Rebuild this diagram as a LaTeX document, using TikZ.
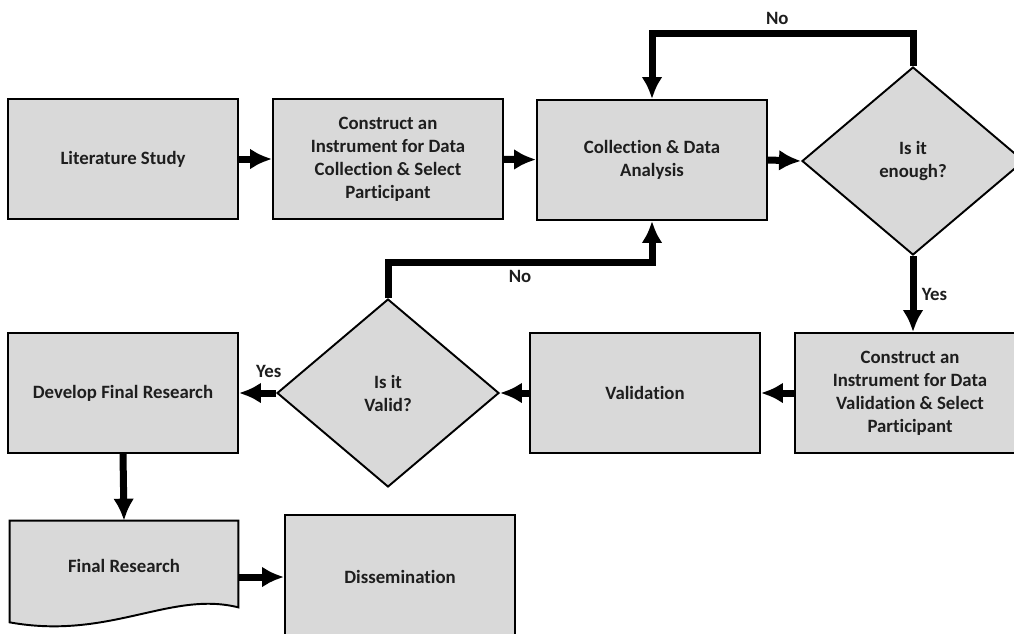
\documentclass[tikz,border=0pt]{standalone}
\usepackage{fontspec}
\setmainfont{Carlito}[Ligatures=NoCommon]
\usepackage{tikz}
\usetikzlibrary{arrows.meta}
\usetikzlibrary{shapes}
\usetikzlibrary{positioning}
\usetikzlibrary{calc}
\usetikzlibrary{backgrounds}
\definecolor{boxgray}{HTML}{D9D9D9}
\definecolor{inkgray}{HTML}{1E1E1E}
\tikzstyle{block} = [rectangle, draw, fill=boxgray, line width=1.1pt, 
text width=4.3cm, align=flush center, minimum width=4.6cm, minimum height=2.4cm, 
font=\bfseries\fontsize{10.7}{13.1}\selectfont, text=inkgray]
\tikzstyle{decision} = [diamond, draw, fill=boxgray, line width=1.1pt, aspect=1.18, 
inner sep=0pt, minimum width=4.44cm, minimum height=3.76cm, align=flush center, 
font=\bfseries\fontsize{10.7}{13.1}\selectfont, text=inkgray]
\tikzstyle{doc} = [rectangle, text width=4.2cm, align=flush center, minimum width=4.56cm, 
minimum height=1.8cm, font=\bfseries\fontsize{10.7}{13.1}\selectfont, text=inkgray]
\tikzstyle{docshape} = [draw, fill=boxgray, line width=1.1pt]
\tikzstyle{lbl} = [font=\bfseries\fontsize{10.7}{12}\selectfont, text=inkgray, inner sep=3pt]
\tikzstyle{line} = [draw, -{Latex[length=0.44cm,width=0.42cm]}, line width=0.14cm]

\begin{document}
\begin{tikzpicture}[x=0.02cm, y=-0.02cm]
	\useasboundingbox (0,0) rectangle (1014,633);
	\clip (0,0) rectangle (1014,633);
	% top row
	\node [block] at (123,159) (lit) {Literature Study};
	\node [block] at (388,159) (instr) {Construct an\\ Instrument for Data\\ Collection \& Select\\ Participant};
	\node [block] at (652,160) (coll) {Collection \& Data\\ Analysis};
	\node [decision] at (913,161) (enough) {Is it\\ enough?};
	% middle row
	\node [block] at (910,393) (valinstr) {Construct an\\ Instrument for Data\\ Validation \& Select\\ Participant};
	\node [block] at (645,393) (valid) {Validation};
	\node [decision] at (388,393) (isvalid) {Is it\\ Valid?};
	\node [block] at (123,393) (develop) {Develop Final Research};
	% bottom row
	\node [doc] at (124,566) (final) {Final Research};
	\begin{scope}[on background layer]
		\draw [docshape] (final.north west) -- (final.north east) -- ($(final.south east)+(0,-4)$)
			.. controls ($(final.south east)+(-68,-21)$) and ($(final.south west)+(100,29)$) .. ($(final.south west)+(0,11)$) -- cycle;
	\end{scope}
	\node [block, minimum height=2.48cm] at (400,577) (dissem) {Dissemination};
	\coordinate (enoughUp) at (913,33);
	\coordinate (validUp) at (388,262);
	% arrows
	\path [line] (lit) -- (instr);
	\path [line] (instr) -- (coll);
	\path [line] (coll.east) -- (enough.west);
	\path [line] (enough.north) -- (enoughUp) -| node [lbl, above, pos=0.26] (noTop) {No} (coll.north);
	\path [line] (enough.south) -- node [lbl, right, pos=0.5] (yesRight) {Yes} (enough.south |- valinstr.north);
	\path [line] (valinstr.west) -- (valid.east);
	\path [line] (valid.west) -- (isvalid.east);
	\path [line] (isvalid.west) -- node [lbl, above=4pt, pos=0.2] (yesLeft) {Yes} (develop.east);
	\path [line] (isvalid.north) -- (validUp) -| node [lbl, below, pos=0.25] (noMid) {No} (coll.south);
	\path [line] (develop.south) -- (final.north);
	\path [line] (final.east |- dissem.west) -- (dissem.west);
\end{tikzpicture}
\end{document}
